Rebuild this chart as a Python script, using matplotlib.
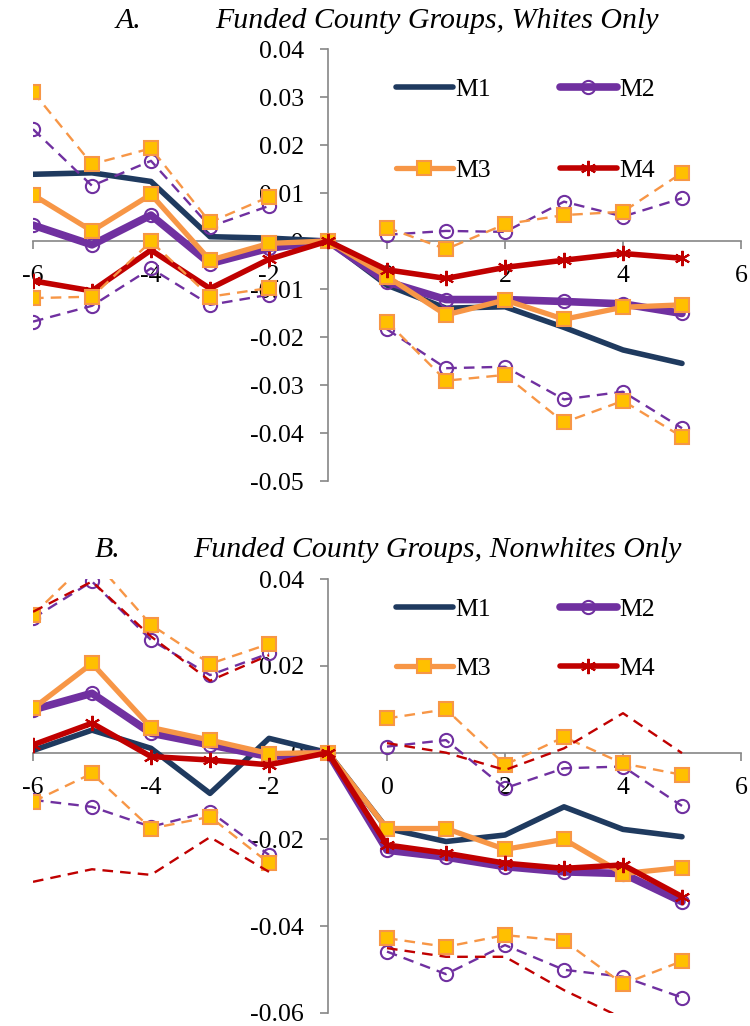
import numpy as np
import matplotlib
matplotlib.use("Agg")
import matplotlib.pyplot as plt
import matplotlib.ticker as tkr

plt.rcParams["font.family"] = ["Liberation Serif", "DejaVu Serif"]
plt.rcParams["axes.unicode_minus"] = False

nan = np.nan

# event time (years relative to funding)
x = [-6, -5, -4, -3, -2, -1, 0, 1, 2, 3, 4, 5]

# Panel A: Whites only
a_m1 = [0.0139, 0.0142, 0.0124, 0.0009, 0.0006, 0, -0.0092, -0.0140, -0.0137, -0.0180, -0.0227, -0.0255]
a_m2 = [0.0033, -0.0008, 0.0054, -0.0047, -0.0015, 0, -0.0085, -0.0122, -0.0122, -0.0126, -0.0131, -0.0151]
a_m3 = [0.0096, 0.0021, 0.0097, -0.0040, -0.0005, 0, -0.0074, -0.0154, -0.0123, -0.0163, -0.0138, -0.0133]
a_m4 = [-0.0083, -0.0104, -0.0019, -0.0099, -0.0038, 0, -0.0060, -0.0078, -0.0055, -0.0040, -0.0026, -0.0036]
a_m2_hi = [0.0233, 0.0115, 0.0167, 0.0030, 0.0073, nan, 0.0013, 0.0021, 0.0019, 0.0082, 0.0051, 0.0089]
a_m2_lo = [-0.0168, -0.0135, -0.0057, -0.0133, -0.0112, nan, -0.0184, -0.0265, -0.0262, -0.0330, -0.0314, -0.0390]
a_m3_hi = [0.0311, 0.0160, 0.0193, 0.0039, 0.0092, nan, 0.0028, -0.0017, 0.0035, 0.0054, 0.0061, 0.0142]
a_m3_lo = [-0.0119, -0.0116, -0.0001, -0.0116, -0.0098, nan, -0.0168, -0.0291, -0.0279, -0.0378, -0.0333, -0.0408]

# Panel B: Nonwhites only
b_m1 = [0.0005, 0.0052, 0.0010, -0.0094, 0.0033, 0, -0.0175, -0.0205, -0.0190, -0.0125, -0.0177, -0.0194]
b_m2 = [0.0099, 0.0137, 0.0045, 0.0018, -0.0009, 0, -0.0225, -0.0241, -0.0263, -0.0275, -0.0279, -0.0344]
b_m3 = [0.0102, 0.0206, 0.0058, 0.0029, -0.0002, 0, -0.0175, -0.0175, -0.0223, -0.0200, -0.0279, -0.0265]
b_m4 = [0.0018, 0.0068, -0.0009, -0.0017, -0.0028, 0, -0.0213, -0.0232, -0.0255, -0.0267, -0.0259, -0.0332]
b_m2_hi = [0.0310, 0.0395, 0.0260, 0.0179, 0.0229, nan, 0.0014, 0.0029, -0.0082, -0.0036, -0.0032, -0.0123]
b_m2_lo = [-0.0109, -0.0125, -0.0171, -0.0136, -0.0236, nan, -0.0459, -0.0511, -0.0444, -0.0501, -0.0517, -0.0565]
b_m3_hi = [0.0318, 0.0450, 0.0295, 0.0205, 0.0251, nan, 0.0079, 0.0100, -0.0028, 0.0036, -0.0025, -0.0051]
b_m3_lo = [-0.0113, -0.0048, -0.0175, -0.0148, -0.0255, nan, -0.0428, -0.0448, -0.0421, -0.0434, -0.0534, -0.0481]
b_m4_hi = [0.0325, 0.0395, 0.0268, 0.0166, 0.0225, nan, 0.0022, 0.0000, -0.0040, 0.0010, 0.0091, -0.0001]
b_m4_lo = [-0.0298, -0.0269, -0.0282, -0.0195, -0.0275, nan, -0.0451, -0.0471, -0.0471, -0.0548, -0.0613, -0.0650]

NAVY = "#1F3A5F"
PURPLE = "#7030A0"
ORANGE = "#F79646"
GOLD = "#FFC000"
RED = "#C00000"
GREY = "#868686"
FS = 18.5
TFS = 21.5

W, H = 750, 1026


def yfmt(v, pos):
    return "%g" % round(v, 3)


def xfmt(v, pos):
    return "%d" % v


def style_axes(ax, ymin, ymax, ystep):
    ax.set_xlim(-6, 6)
    ax.set_ylim(ymin, ymax)
    for s in ["top", "right"]:
        ax.spines[s].set_visible(False)
    ax.spines["left"].set_position(("data", -1))
    ax.spines["bottom"].set_position(("data", 0))
    for s in ["left", "bottom"]:
        ax.spines[s].set_color(GREY)
        ax.spines[s].set_linewidth(1.2)
    ax.xaxis.set_major_locator(tkr.MultipleLocator(2))
    ax.yaxis.set_major_locator(tkr.MultipleLocator(ystep))
    ax.xaxis.set_major_formatter(tkr.FuncFormatter(xfmt))
    ax.yaxis.set_major_formatter(tkr.FuncFormatter(yfmt))
    ax.tick_params(axis="both", direction="out", length=5.5, width=1.2,
                   color=GREY, labelsize=FS)
    ax.tick_params(axis="x", pad=12)
    ax.tick_params(axis="y", pad=12)
    ax.patch.set_visible(False)


def draw_panel(ax, m1, m2, m3, m4, cis):
    l1, = ax.plot(x, m1, color=NAVY, lw=4, solid_capstyle="round", zorder=3, label="M1")
    l2, = ax.plot(x, m2, color=PURPLE, lw=5.5, marker="o", ms=9.5, mfc="none",
                  mec=PURPLE, mew=1.5, solid_capstyle="round", zorder=3, label="M2")
    l3, = ax.plot(x, m3, color=ORANGE, lw=3.8, marker="s", ms=10.5, mfc=GOLD,
                  mec=ORANGE, mew=1.5, solid_capstyle="round", zorder=3, label="M3")
    l4, = ax.plot(x, m4, color=RED, lw=4, marker=(6, 2, 0), ms=11, mec=RED,
                  mew=1.5, solid_capstyle="round", zorder=3, label="M4")
    for which, vals in cis:
        if which == "M2":
            ax.plot(x, vals, color=PURPLE, lw=1.7, ls=(0, (4.5, 3)), marker="o", ms=9.5,
                    mfc="none", mec=PURPLE, mew=1.5, zorder=4)
        elif which == "M3":
            ax.plot(x, vals, color=ORANGE, lw=1.7, ls=(0, (4.5, 3)), marker="s", ms=10.5,
                    mfc=GOLD, mec=ORANGE, mew=1.5, zorder=4)
        else:
            ax.plot(x, vals, color=RED, lw=1.7, ls=(0, (4.5, 3)), zorder=4)
    return [l1, l3, l2, l4]


fig = plt.figure(figsize=(W / 100, H / 100), dpi=100)

axA = fig.add_axes([33 / W, 1 - 481 / H, 708 / W, 432 / H])
style_axes(axA, -0.05, 0.04, 0.01)
hA = draw_panel(axA, a_m1, a_m2, a_m3, a_m4,
                [("M2", a_m2_hi), ("M2", a_m2_lo), ("M3", a_m3_hi), ("M3", a_m3_lo)])
axA.legend(handles=hA, ncol=2, loc="upper left", bbox_to_anchor=(396 / W, 1 - 78 / H),
           bbox_transform=fig.transFigure, frameon=False, fontsize=FS,
           handlelength=2.2, handletextpad=0.1, columnspacing=2.7, labelspacing=2.25,
           borderpad=0, borderaxespad=0)

axB = fig.add_axes([33 / W, 1 - 1012.7 / H, 708 / W, 433.4 / H])
style_axes(axB, -0.06, 0.04, 0.02)
hB = draw_panel(axB, b_m1, b_m2, b_m3, b_m4,
                [("M2", b_m2_hi), ("M2", b_m2_lo), ("M3", b_m3_hi), ("M3", b_m3_lo),
                 ("M4", b_m4_hi), ("M4", b_m4_lo)])
axB.legend(handles=hB, ncol=2, loc="upper left", bbox_to_anchor=(396 / W, 1 - 598 / H),
           bbox_transform=fig.transFigure, frameon=False, fontsize=FS,
           handlelength=2.2, handletextpad=0.1, columnspacing=2.7, labelspacing=1.4,
           borderpad=0, borderaxespad=0)

fig.text(129 / W, 1 - 28 / H, "A.", ha="center", va="baseline", style="italic", fontsize=TFS)
fig.text(215 / W, 1 - 28 / H, "Funded County Groups, Whites Only", ha="left",
         va="baseline", style="italic", fontsize=TFS)
fig.text(108 / W, 1 - 557 / H, "B.", ha="center", va="baseline", style="italic", fontsize=TFS)
fig.text(193 / W, 1 - 557 / H, "Funded County Groups, Nonwhites Only", ha="left",
         va="baseline", style="italic", fontsize=TFS)

fig.savefig("out.png", dpi=100)
